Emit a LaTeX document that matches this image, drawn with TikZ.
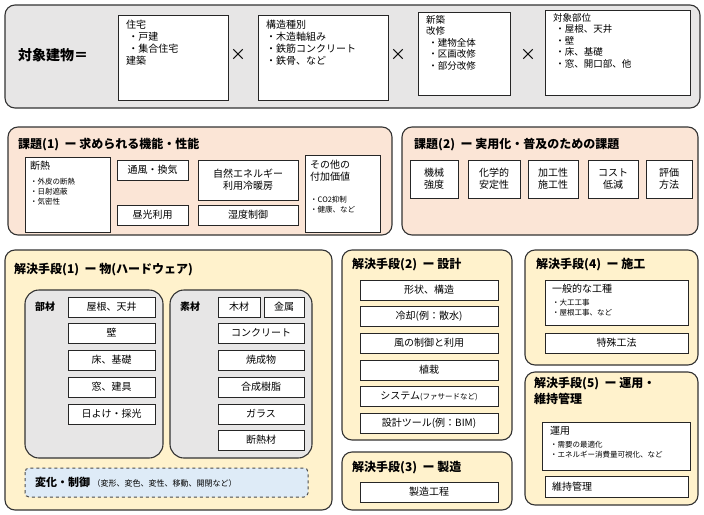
\documentclass[tikz,border=0pt]{standalone}
\usepackage{fontspec}
\setmainfont{Noto Sans CJK JP}
\begin{document}
\begin{tikzpicture}[x=1pt,y=-1pt,
 grp/.style={draw=black!80,line width=1.1pt,rounded corners=10pt},
 wb/.style={draw=black!85,line width=1pt,fill=white},
 t/.style={font=\fontsize{10}{12}\selectfont,inner sep=0pt},
 sm/.style={font=\fontsize{7.5}{10}\selectfont,inner sep=0pt,align=left},
 hd/.style={font=\bfseries\fontsize{12}{14}\selectfont,inner sep=0pt,anchor=west}]
\useasboundingbox (0,0) rectangle (704,514);
\definecolor{peach}{HTML}{FBE5D6}\definecolor{cream}{HTML}{FFF2CC}
\definecolor{lg}{HTML}{E7E6E6}\definecolor{lb}{HTML}{DEEBF7}
% top
\draw[grp,fill=lg] (5,5) rectangle (700,108);
\node[hd,font=\bfseries\fontsize{14}{16}\selectfont] (obj) at (18,55) {対象建物＝};
\draw[wb] (118,15) rectangle (228,100);
\node[t,anchor=north west,align=left] (a1) at (126,20) {住宅\\\ ・戸建\\\ ・集合住宅\\建築};
\node[font=\fontsize{16}{16}\selectfont] (x1) at (238,55) {×};
\draw[wb] (258,15) rectangle (388,100);
\node[t,anchor=north west,align=left] (a2) at (266,20) {構造種別\\・木造軸組み\\・鉄筋コンクリート\\・鉄骨、など};
\node[font=\fontsize{16}{16}\selectfont] (x2) at (398,55) {×};
\draw[wb] (418,12) rectangle (510,95);
\node[t,anchor=north west,align=left,font=\fontsize{9.5}{11.5}\selectfont] (a3) at (426,15) {新築\\改修\\\ ・建物全体\\\ ・区画改修\\\ ・部分改修};
\node[font=\fontsize{16}{16}\selectfont] (x3) at (528,55) {×};
\draw[wb] (545,10) rectangle (690,95);
\node[t,anchor=north west,align=left,font=\fontsize{9.5}{11.5}\selectfont] (a4) at (553,13) {対象部位\\\ ・屋根、天井\\\ ・壁\\\ ・床、基礎\\\ ・窓、開口部、他};
% kadai1
\draw[grp,fill=peach] (8,127) rectangle (392,235);
\node[hd] (k1) at (18,145) {課題(1)\ \ ー\ 求められる機能・性能};
\draw[wb] (25,157) rectangle (110,232);
\node[t,anchor=north west] (k1a) at (30,161) {断熱};
\node[sm,anchor=north west] (k1b) at (30,178) {・外皮の断熱\\・日射遮蔽\\・気密性};
\draw[wb] (117,160) rectangle (188,180); \node[t] (k1c) at (152.5,170) {通風・換気};
\draw[wb] (117,205) rectangle (188,225); \node[t] (k1d) at (152.5,215) {昼光利用};
\draw[wb] (198,160) rectangle (298,200); \node[t,align=center] (k1e) at (248,180) {自然エネルギー\\利用冷暖房};
\draw[wb] (198,205) rectangle (298,225); \node[t] (k1f) at (248,215) {湿度制御};
\draw[wb] (305,155) rectangle (380,232);
\node[t,anchor=north west,align=left] (k1g) at (310,160) {その他の\\付加価値};
\node[sm,anchor=north west] (k1h) at (310,196) {・CO2抑制\\・健康、など};
% kadai2
\draw[grp,fill=peach] (402,127) rectangle (698,235);
\node[hd] (k2) at (414,145) {課題(2)\ \ ー\ 実用化・普及のための課題};
\foreach \xa/\xb/\tx [count=\i] in {410/458/機械\\強度,468/520/化学的\\安定性,528/578/加工性\\施工性,588/638/コスト\\低減,646/692/評価\\方法}{
 \draw[wb] (\xa,160) rectangle (\xb,198);
 \node[t,align=center] (k2\i) at ({(\xa+\xb)/2},179) {\tx};}
% sol1
\draw[grp,fill=cream] (5,250) rectangle (332,510);
\node[hd] (s1) at (14,270) {解決手段(1)\ \ ー\ 物(ハードウェア)};
\draw[grp,fill=lg,rounded corners=14pt] (25,290) rectangle (163,458);
\node[t,font=\bfseries\fontsize{10}{12}\selectfont] (bz) at (45,307) {部材};
\foreach \ya/\tx [count=\i] in {297/屋根、天井,323/壁,350/床、基礎,377/窓、建具,404/日よけ・採光}{
 \draw[wb] (68,\ya) rectangle (155,\ya+20);
 \node[t] (p\i) at (111.5,\ya+10) {\tx};}
\draw[grp,fill=lg,rounded corners=14pt] (170,290) rectangle (312,458);
\node[t,font=\bfseries\fontsize{10}{12}\selectfont] (sz) at (190,307) {素材};
\draw[wb] (218,297) rectangle (260,317); \node[t] (m1) at (239,307) {木材};
\draw[wb] (264,297) rectangle (304,317); \node[t] (m2) at (284,307) {金属};
\foreach \ya/\tx [count=\i] in {323/コンクリート,350/焼成物,377/合成樹脂,404/ガラス,430/断熱材}{
 \draw[wb] (218,\ya) rectangle (304,\ya+20);
 \node[t] (q\i) at (261,\ya+10) {\tx};}
\draw[draw=black!70,dashed,line width=1pt,fill=lb,rounded corners=4pt] (25,468) rectangle (308,497);
\node[anchor=west,inner sep=0pt] (hc) at (35,482.5) {\bfseries\fontsize{11}{13}\selectfont 変化・制御\ \fontsize{8}{10}\mdseries\selectfont （変形、変色、変性、移動、開閉など）};
% sol2
\draw[grp,fill=cream] (342,250) rectangle (512,440);
\node[hd] (s2) at (352,265) {解決手段(2)\ \ ー\ 設計};
\foreach \ya/\tx [count=\i] in {280/形状、構造,306/冷却(例：散水),333/風の制御と利用,360/植栽,386/システム{\fontsize{7.5}{9}\selectfont(ファサードなど)},413/設計ツール(例：BIM)}{
 \draw[wb] (360,\ya) rectangle (498,\ya+20);
 \node[t] (d\i) at (429,\ya+10) {\tx};}
% sol3
\draw[grp,fill=cream] (342,452) rectangle (512,510);
\node[hd] (s3) at (352,468) {解決手段(3)\ \ ー\ 製造};
\draw[wb] (360,482) rectangle (498,502); \node[t] (mf) at (429,492) {製造工程};
% sol4
\draw[grp,fill=cream] (525,250) rectangle (698,365);
\node[hd] (s4) at (536,265) {解決手段(4)\ \ ー\ 施工};
\draw[wb] (545,280) rectangle (688,325);
\node[t,anchor=north west] (c1) at (552,284) {一般的な工種};
\node[sm,anchor=north west] (c2) at (552,299) {・大工工事\\・屋根工事、など};
\draw[wb] (545,333) rectangle (688,353); \node[t] (c3) at (616.5,343) {特殊工法};
% sol5
\draw[grp,fill=cream] (525,372) rectangle (698,505);
\node[hd,anchor=north west,align=left,font=\bfseries\fontsize{12}{16}\selectfont] (s5) at (534,377) {解決手段(5)\ \ ー\ 運用・\\維持管理};
\draw[wb] (542,422) rectangle (690,470);
\node[t,anchor=north west] (o1) at (550,426) {運用};
\node[sm,anchor=north west] (o2) at (550,441) {・需要の最適化\\・エネルギー消費量可視化、など};
\draw[wb] (545,476) rectangle (688,497); \node[t,anchor=west] (o3) at (552,486.5) {維持管理};
\end{tikzpicture}
\end{document}
